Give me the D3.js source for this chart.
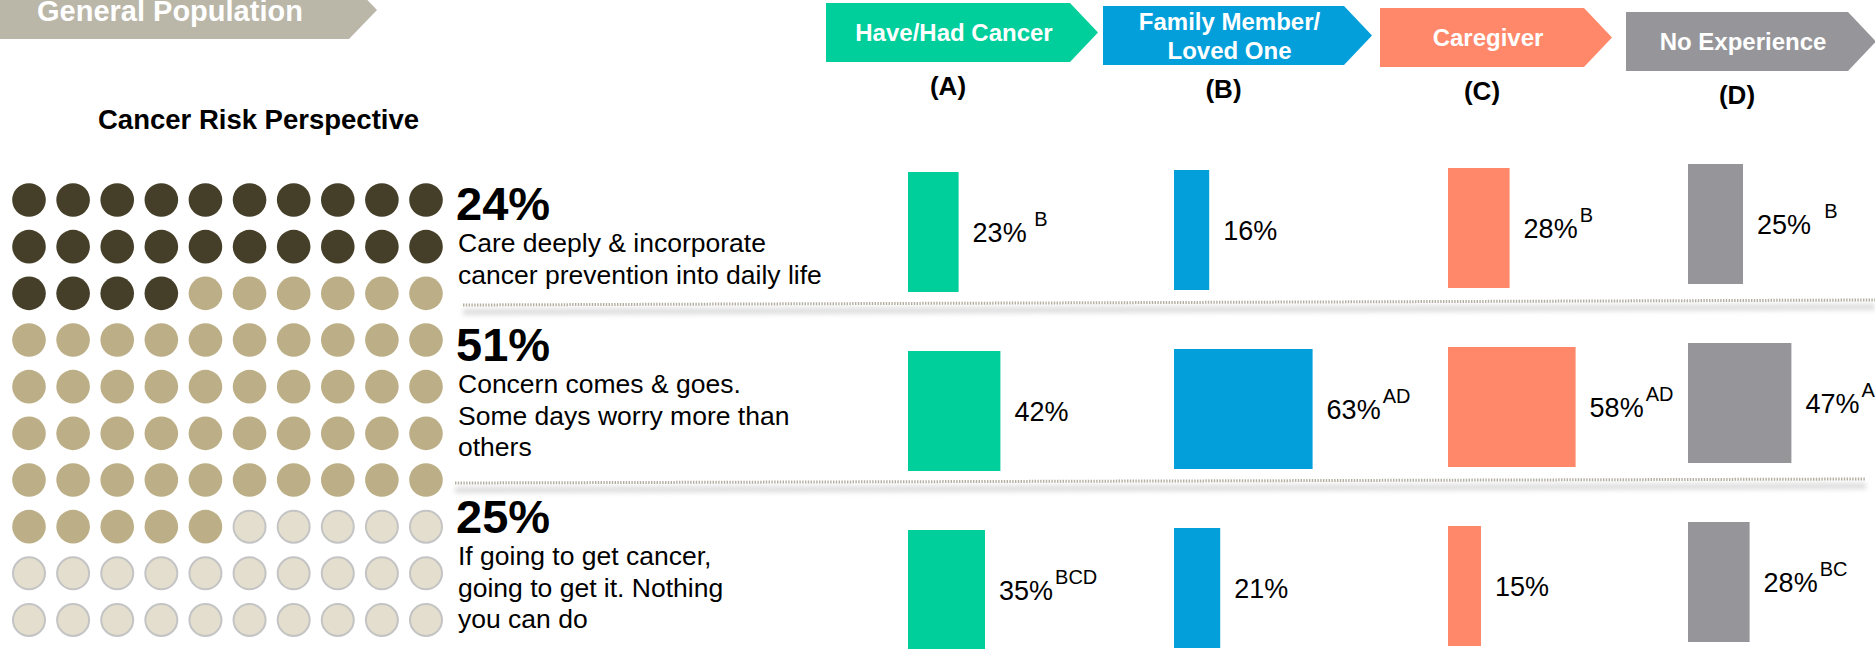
<!DOCTYPE html>
<html>
<head>
<meta charset="utf-8">
<script src="https://cdn.jsdelivr.net/npm/d3@7"></script>
<style>
  body { margin: 0; background: #fff; }
  svg { display: block; font-family: Arial, 'Liberation Sans', sans-serif; }
  .pre { white-space: pre; }
</style>
</head>
<body>
<svg id="chart"></svg>
<script>
// ------------------ data ---------------------

let groups = ['Have/Had Cancer', 'Family Member/|Loved One', 'Caregiver', 'No Experience'];
let groupLetters = ['(A)', '(B)', '(C)', '(D)'];

let segmentTotals = [24, 51, 25];
let segmentLines = [
    ['Care deeply & incorporate', 'cancer prevention into daily life'],
    ['Concern comes & goes.', 'Some days worry more than', 'others'],
    ['If going to get cancer,', 'going to get it. Nothing', 'you can do']
];

let haveHad = [23, 42, 35];
let familyMember = [16, 63, 21];
let caregiver = [28, 58, 15];
let noExperience = [25, 47, 28];

let sigHaveHad = [' B', '', 'BCD'];
let sigFamilyMember = ['', 'AD', ''];
let sigCaregiver = ['B', 'AD', ''];
let sigNoExperience = ['  B', 'A', 'BC'];

// ------------------ setup ---------------------

let svgWidth = 1875;
let svgHeight = 649;

let groupColors = ['#00ce9b', '#039fdb', '#ff886a', '#96969a'];
let dotColors = ['#453f29', '#bcaf87', '#e3dece'];

let svg = d3.select('#chart')
    .attr('width', svgWidth)
    .attr('height', svgHeight);

let defs = svg.append('defs');
defs.append('filter')
    .attr('id', 'soft')
    .attr('x', '-5%').attr('y', '-200%')
    .attr('width', '110%').attr('height', '500%')
    .append('feGaussianBlur')
    .attr('stdDeviation', 2.5);

// ------------------ top-left banner ---------------------

svg.append('path')
    .attr('d', 'M0,-19 L349,-19 L377,10 L349,39 L0,39 Z')
    .attr('fill', '#bab6a8');

svg.append('text')
    .attr('x', 37)
    .attr('y', 21)
    .attr('fill', '#fff')
    .attr('font-weight', 'bold')
    .attr('font-size', 29)
    .text('General Population');

svg.append('text')
    .attr('x', 98)
    .attr('y', 129)
    .attr('font-weight', 'bold')
    .attr('font-size', 27.5)
    .text('Cancer Risk Perspective');

// ------------------ dot grid (100 people) ---------------------

let dots = d3.range(100).map(function(i) {
    let seg = i < segmentTotals[0] ? 0 : (i < segmentTotals[0] + segmentTotals[1] ? 1 : 2);
    return { col: i % 10, row: Math.floor(i / 10), seg: seg };
});

let dotX = d3.scaleLinear().domain([0, 9]).range([29, 426]);
let dotY = d3.scaleLinear().domain([0, 9]).range([200, 620]);

svg.append('g').selectAll('circle')
    .data(dots)
    .enter()
    .append('circle')
    .attr('cx', function(d) { return dotX(d.col); })
    .attr('cy', function(d) { return dotY(d.row); })
    .attr('r', function(d) { return d.seg === 2 ? 16 : 16.8; })
    .attr('fill', function(d) { return dotColors[d.seg]; })
    .attr('stroke', function(d) { return d.seg === 2 ? '#c4c4c4' : 'none'; })
    .attr('stroke-width', 2);

// ------------------ segment text ---------------------

let segY = d3.scaleOrdinal().domain([0, 1, 2]).range([220, 361, 533]);

let segText = svg.append('g').selectAll('g')
    .data(segmentTotals)
    .enter()
    .append('g');

segText.append('text')
    .attr('x', 456)
    .attr('y', function(d, i) { return segY(i); })
    .attr('font-weight', 'bold')
    .attr('font-size', 47)
    .text(function(d) { return d + '%'; });

segText.each(function(d, i) {
    d3.select(this).selectAll('.line')
        .data(segmentLines[i])
        .enter()
        .append('text')
        .attr('class', 'line')
        .attr('x', 458)
        .attr('y', function(t, j) { return segY(i) + 32 + j * 31.5; })
        .attr('font-size', 26.5)
        .text(function(t) { return t; });
});

// ------------------ dotted separators ---------------------

let separators = [[463, 305, 1875, 300], [455, 483, 1866, 479]];

separators.forEach(function(s) {
    svg.append('line')
        .attr('x1', s[0]).attr('y1', s[1] + 7)
        .attr('x2', s[2]).attr('y2', s[3] + 7)
        .attr('stroke', '#dcdcdc')
        .attr('stroke-width', 6)
        .attr('filter', 'url(#soft)');
    svg.append('line')
        .attr('x1', s[0]).attr('y1', s[1])
        .attr('x2', s[2]).attr('y2', s[3])
        .attr('stroke', '#b3afa2')
        .attr('stroke-width', 3)
        .attr('stroke-dasharray', '1.4,1.4');
});

// ------------------ group headers ---------------------

let headLeft = d3.scaleOrdinal().domain(groups).range([826, 1103, 1380, 1626]);
let headRight = d3.scaleOrdinal().domain(groups).range([1070, 1344, 1584, 1848]);
let headTop = d3.scaleOrdinal().domain(groups).range([3, 6, 8, 12]);
let headH = 59;
let headTip = 28;

let heads = svg.append('g').selectAll('g')
    .data(groups)
    .enter()
    .append('g');

heads.append('path')
    .attr('d', function(d) {
        let x0 = headLeft(d), x1 = headRight(d), y0 = headTop(d), y1 = y0 + headH;
        return 'M' + x0 + ',' + y0 + ' L' + x1 + ',' + y0 + ' L' + (x1 + headTip) + ',' + (y0 + headH / 2) +
            ' L' + x1 + ',' + y1 + ' L' + x0 + ',' + y1 + ' Z';
    })
    .attr('fill', function(d, i) { return groupColors[i]; });

heads.each(function(d) {
    let lines = d.split('|');
    let cx = (headLeft(d) + headRight(d)) / 2 + 6;
    let mid = headTop(d) + headH / 2;
    d3.select(this).selectAll('.hl')
        .data(lines)
        .enter()
        .append('text')
        .attr('class', 'hl')
        .attr('x', cx)
        .attr('y', function(t, j) { return mid + 8.5 + (j - (lines.length - 1) / 2) * 29; })
        .attr('text-anchor', 'middle')
        .attr('fill', '#fff')
        .attr('font-weight', 'bold')
        .attr('font-size', 24)
        .text(function(t) { return t; });
});

heads.append('text')
    .attr('x', function(d) { return (headLeft(d) + headRight(d)) / 2; })
    .attr('y', function(d) { return headTop(d) + headH + 33; })
    .attr('text-anchor', 'middle')
    .attr('font-weight', 'bold')
    .attr('font-size', 26)
    .text(function(d, i) { return groupLetters[i]; });

// ------------------ bars ---------------------

let series = [haveHad, familyMember, caregiver, noExperience];
let sigs = [sigHaveHad, sigFamilyMember, sigCaregiver, sigNoExperience];

let barData = [];
series.forEach(function(s, g) {
    s.forEach(function(v, r) {
        barData.push({ group: groups[g], g: g, row: r, value: v, sig: sigs[g][r] });
    });
});

let barX = d3.scaleOrdinal().domain(groups).range([908, 1174, 1448, 1688]);
let colShift = d3.scaleOrdinal().domain(groups).range([0, -2, -4, -8]);
let barY = d3.scaleBand().domain([0, 1, 2]).range([172, 650]).paddingInner(59 / 179);
let barW = d3.scaleLinear().domain([0, 100]).range([0, 220]);

let bars = svg.append('g').selectAll('g')
    .data(barData)
    .enter()
    .append('g');

bars.append('rect')
    .attr('x', function(d) { return barX(d.group); })
    .attr('y', function(d) { return barY(d.row) + colShift(d.group); })
    .attr('width', function(d) { return barW(d.value); })
    .attr('height', barY.bandwidth())
    .attr('fill', function(d) { return groupColors[d.g]; });

let labels = bars.append('text')
    .attr('class', 'pre')
    .attr('x', function(d) { return barX(d.group) + barW(d.value) + 14; })
    .attr('y', function(d) { return barY(d.row) + colShift(d.group) + barY.bandwidth() / 2 + 9.5; })
    .attr('font-size', 27);

labels.append('tspan')
    .text(function(d) { return d.value + '%'; });

labels.append('tspan')
    .attr('font-size', 20)
    .attr('dy', -16)
    .attr('dx', 2)
    .text(function(d) { return d.sig; });
</script>
</body>
</html>
